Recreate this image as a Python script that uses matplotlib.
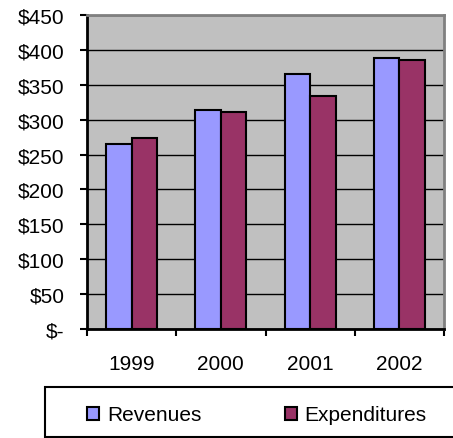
import numpy as np
import matplotlib.pyplot as plt
from matplotlib.patches import Patch, Rectangle
from matplotlib.ticker import FuncFormatter

years = ['1999', '2000', '2001', '2002']
revenues = [265, 314, 365, 388]
expenditures = [274, 311, 334, 385]

plt.rcParams['font.family'] = ['Liberation Sans', 'DejaVu Sans']
plt.rcParams['font.size'] = 15

fig = plt.figure(figsize=(4.53, 4.39), dpi=100)
ax = fig.add_axes([87 / 453, 1 - 330 / 439, 357 / 453, 314 / 439])
ax.set_facecolor('#c0c0c0')

x = np.arange(len(years))
w = 0.286
ax.bar(x - w / 2, revenues, w, color='#9999ff', edgecolor='black', linewidth=1.5, zorder=3)
ax.bar(x + w / 2, expenditures, w, color='#993366', edgecolor='black', linewidth=1.5, zorder=3)

ax.set_xlim(-0.5, 3.5)
ax.set_ylim(0, 450)
ax.set_yticks(np.arange(0, 451, 50))
ax.yaxis.set_major_formatter(FuncFormatter(lambda v, p: '$-' if v == 0 else f'${v:.0f}'))
ax.yaxis.grid(True, color='black', linewidth=1)
ax.set_axisbelow(True)

# ticks at category boundaries, labels at centres
ax.set_xticks(np.arange(-0.5, 4, 1))
ax.set_xticklabels([])
ax.set_xticks(x, minor=True)
ax.set_xticklabels(years, minor=True)
ax.tick_params(axis='x', which='major', length=5, width=1.5, direction='out')
ax.tick_params(axis='x', which='minor', length=0, pad=18)
ax.tick_params(axis='y', length=5, width=1.5, direction='out', pad=11)

for s in ['left', 'bottom']:
    ax.spines[s].set_linewidth(2)
    ax.spines[s].set_color('black')
for s in ['top', 'right']:
    ax.spines[s].set_linewidth(2)
    ax.spines[s].set_color('#808080')

# legend box
fig.patches.append(Rectangle((45 / 453, 1 / 439), 420 / 453, 50 / 439, transform=fig.transFigure,
                             facecolor='white', edgecolor='black', linewidth=1.5, zorder=0))

handles = [Patch(facecolor='#9999ff', edgecolor='black', linewidth=1.5, label='Revenues'),
           Patch(facecolor='#993366', edgecolor='black', linewidth=1.5, label='Expenditures')]
leg = fig.legend(handles=handles, loc='center left', bbox_to_anchor=(87 / 453, 1 - 416 / 439),
                 ncol=2, frameon=False, handlelength=0.58, handleheight=0.58, handletextpad=0.38,
                 columnspacing=4.0, borderpad=0, borderaxespad=0)

fig.savefig('out.png', dpi=100)
